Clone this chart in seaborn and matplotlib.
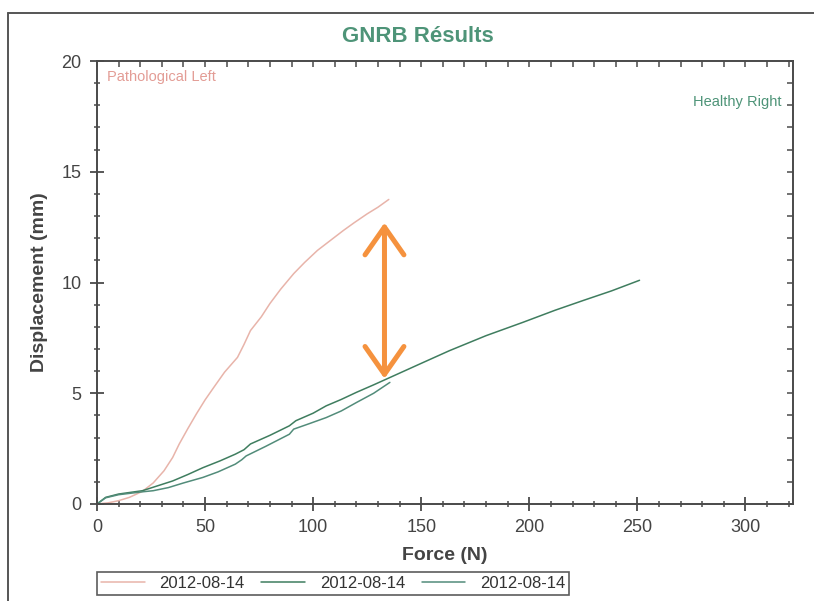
import matplotlib
matplotlib.use("Agg")
import matplotlib.pyplot as plt
from matplotlib.lines import Line2D
from matplotlib.ticker import MultipleLocator
import numpy as np
import pandas as pd
import seaborn as sns

# ---- measurements -------------------------------------------------------
left_force = [0, 5, 10, 15, 21, 26, 31, 35, 38, 42, 46, 50, 54, 59, 65, 68,
              71, 76, 80, 85, 91, 96, 102, 108, 114, 119, 125, 130, 135]
left_disp = [0, 0.05, 0.15, 0.3, 0.57, 0.95, 1.5, 2.1, 2.7, 3.4, 4.07, 4.7,
             5.26, 5.95, 6.62, 7.2, 7.83, 8.45, 9.05, 9.7, 10.4, 10.9, 11.45,
             11.9, 12.35, 12.7, 13.1, 13.4, 13.75]

right1_force = [0, 4, 10, 21, 28, 35, 42, 49, 57, 64, 68, 71, 80, 89, 92, 100,
                106, 113, 120, 128, 135.5, 150, 163, 180, 197, 212, 225, 238, 251]
right1_disp = [0, 0.3, 0.45, 0.6, 0.82, 1.04, 1.33, 1.64, 1.95, 2.25, 2.45,
               2.71, 3.1, 3.53, 3.76, 4.1, 4.43, 4.72, 5.04, 5.38, 5.71, 6.35,
               6.92, 7.6, 8.2, 8.75, 9.19, 9.62, 10.1]

right2_force = [0, 4, 10, 21, 26, 33, 40, 49, 56, 64, 67, 69, 78, 89, 91, 98,
                106, 113, 120, 128, 135.5]
right2_disp = [0, 0.28, 0.42, 0.55, 0.6, 0.74, 0.95, 1.2, 1.45, 1.8, 2.0,
               2.17, 2.6, 3.15, 3.38, 3.62, 3.9, 4.2, 4.58, 5.0, 5.49]

series_labels = ["2012-08-14", "2012-08-14", "2012-08-14"]
series_colors = ["#e8b4aa", "#3f7d5f", "#528c7a"]

# displacement gap between the two knees at the same force
gap_force = 133
gap_low, gap_high = 5.66, 12.7

# ---- figure -------------------------------------------------------------
sns.set_theme(style="white")
plt.rcParams["font.family"] = ["Liberation Sans", "DejaVu Sans"]

W, H = 814, 601
fig = plt.figure(figsize=(W / 100, H / 100), dpi=100)
fig.patch.set_facecolor("white")
ax = fig.add_axes([97 / W, 1 - 504 / H, (793 - 97) / W, (504 - 61) / H])
ax.set_facecolor("white")

frames = [
    pd.DataFrame({"Force": left_force, "Displacement": left_disp}),
    pd.DataFrame({"Force": right1_force, "Displacement": right1_disp}),
    pd.DataFrame({"Force": right2_force, "Displacement": right2_disp}),
]
for df, lab, col in zip(frames, series_labels, series_colors):
    sns.lineplot(data=df, x="Force", y="Displacement", ax=ax, color=col,
                 linewidth=1.1, sort=False, estimator=None, label=lab,
                 legend=False)

ax.set_xlim(0, 322)
ax.set_ylim(0, 20)
ax.xaxis.set_major_locator(MultipleLocator(50))
ax.xaxis.set_minor_locator(MultipleLocator(10))
ax.yaxis.set_major_locator(MultipleLocator(5))
ax.yaxis.set_minor_locator(MultipleLocator(1))

spine_col = "#4a4a4a"
for s in ax.spines.values():
    s.set_color(spine_col)
    s.set_linewidth(1.4)

ax.tick_params(which="major", direction="inout", length=10, width=1.3,
               color=spine_col, labelsize=13, labelcolor="#444444", pad=6,
               bottom=True, left=True, top=False, right=False)
ax.tick_params(which="minor", direction="inout", length=5, width=1.1,
               color=spine_col, bottom=True, left=True, top=False, right=False)

# inward ticks on the top and right edges
top = ax.secondary_xaxis("top")
top.xaxis.set_major_locator(MultipleLocator(10))
top.tick_params(direction="in", length=4, width=1.1, color=spine_col,
                labeltop=False)
top.spines["top"].set_visible(False)
right = ax.secondary_yaxis("right")
right.yaxis.set_major_locator(MultipleLocator(1))
right.tick_params(direction="in", length=4, width=1.1, color=spine_col,
                  labelright=False)
right.spines["right"].set_visible(False)

ax.set_xlabel("Force (N)", fontsize=14, fontweight="bold", color="#444444",
              labelpad=8)
ax.set_ylabel("Displacement (mm)", fontsize=14, fontweight="bold",
              color="#444444", labelpad=10)
fig.text(418 / W, 1 - 37 / H, "GNRB Résults", ha="center", va="center",
         fontsize=16, fontweight="bold", color="#4e9478")

ax.text(4.6, 19.3, "Pathological Left", fontsize=10.5, color="#e39c95",
        ha="left", va="center")
ax.text(316.5, 18.15, "Healthy Right", fontsize=10.5, color="#4e9478",
        ha="right", va="center")

ax.annotate("", xy=(gap_force, gap_high), xytext=(gap_force, gap_low),
            arrowprops=dict(arrowstyle="<->,head_length=1.0,head_width=0.7",
                            color="#f5923e", lw=3.6, mutation_scale=20,
                            shrinkA=0, shrinkB=0))

handles = ax.get_lines()[:3]
leg = fig.legend(handles=handles, labels=series_labels, ncol=3,
                 loc="lower left", bbox_to_anchor=(97 / W, 1 - 595 / H),
                 fontsize=12, frameon=True, fancybox=False, edgecolor="#333333",
                 handlelength=2.6, handletextpad=0.9, columnspacing=1.0,
                 borderpad=0.25, borderaxespad=0)
leg.get_frame().set_linewidth(1.2)
for t in leg.get_texts():
    t.set_color("#333333")

# page border of the printed report
fig.add_artist(Line2D([8 / W, 8 / W], [0, 1 - 13 / H], transform=fig.transFigure,
                      color="#555555", lw=1.4))
fig.add_artist(Line2D([8 / W, 1], [1 - 13 / H, 1 - 13 / H],
                      transform=fig.transFigure, color="#555555", lw=1.4))

fig.savefig("out.png", dpi=100, facecolor="white")
